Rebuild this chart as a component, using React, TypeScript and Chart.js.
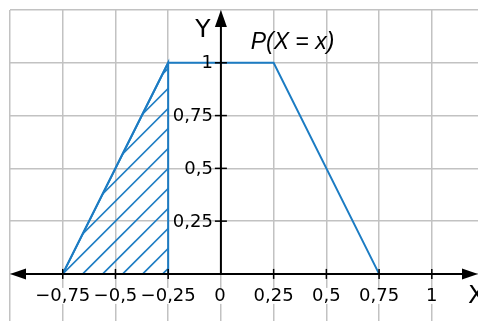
import React, { useEffect, useRef } from "react";
import { Chart, registerables } from "chart.js";
Chart.register(...registerables);

const pdfX = [-0.75, -0.25, 0.25, 0.75];
const pdfY = [0, 1, 1, 0];
const shadeX = [-0.75, -0.25, -0.25];
const shadeY = [0, 1, 0];
const xTickValues = [-0.75, -0.5, -0.25, 0, 0.25, 0.5, 0.75, 1];
const xTickLabels = ["\u22120,75", "\u22120,5", "\u22120,25", "0", "0,25", "0,5", "0,75", "1"];
const yTickValues = [0.25, 0.5, 0.75, 1];
const yTickLabels = ["0,25", "0,5", "0,75", "1"];
const xAxisTitle = "X";
const yAxisTitle = "Y";
const curveLabel = "P(X = x)";

const BLUE = "#1c7cc3";

const overlay = {
  id: "overlay",
  beforeDatasetsDraw(chart: any) {
    const ctx = chart.ctx;
    const pts = chart.getDatasetMeta(1).data;
    if (!pts || pts.length < 3) return;
    ctx.save();
    ctx.beginPath();
    ctx.moveTo(pts[0].x, pts[0].y);
    ctx.lineTo(pts[1].x, pts[1].y);
    ctx.lineTo(pts[2].x, pts[2].y);
    ctx.closePath();
    ctx.clip();
    ctx.strokeStyle = BLUE;
    ctx.lineWidth = 1.7;
    const c0 = pts[0].x + pts[0].y;
    for (let k = -30; k <= 30; k++) {
      const c = c0 + k * 20;
      ctx.beginPath();
      ctx.moveTo(c - 400, 400);
      ctx.lineTo(c + 400, -400);
      ctx.stroke();
    }
    ctx.restore();
  },
  afterDraw(chart: any) {
    const ctx = chart.ctx;
    const xs = chart.scales.x;
    const ys = chart.scales.y;
    const x0 = xs.getPixelForValue(0);
    const y0 = ys.getPixelForValue(0);
    const W = chart.width;
    ctx.save();
    ctx.strokeStyle = "#000";
    ctx.fillStyle = "#000";
    ctx.lineWidth = 2;
    // x axis
    ctx.beginPath();
    ctx.moveTo(22, y0);
    ctx.lineTo(W - 12, y0);
    ctx.stroke();
    ctx.beginPath();
    ctx.moveTo(10, y0);
    ctx.lineTo(26, y0 - 5.5);
    ctx.lineTo(26, y0 + 5.5);
    ctx.closePath();
    ctx.fill();
    ctx.beginPath();
    ctx.moveTo(W, y0);
    ctx.lineTo(W - 16, y0 - 5.5);
    ctx.lineTo(W - 16, y0 + 5.5);
    ctx.closePath();
    ctx.fill();
    // y axis
    const yTop = ys.getPixelForValue(ys.max);
    ctx.beginPath();
    ctx.moveTo(x0, y0);
    ctx.lineTo(x0, yTop + 12);
    ctx.stroke();
    ctx.beginPath();
    ctx.moveTo(x0, yTop);
    ctx.lineTo(x0 - 6, yTop + 17);
    ctx.lineTo(x0 + 6, yTop + 17);
    ctx.closePath();
    ctx.fill();
    // ticks
    ctx.lineWidth = 1.5;
    xTickValues.forEach((v) => {
      if (v === 0) return;
      const px = xs.getPixelForValue(v);
      ctx.beginPath();
      ctx.moveTo(px, y0 - 5);
      ctx.lineTo(px, y0 + 5);
      ctx.stroke();
    });
    yTickValues.forEach((v) => {
      const py = ys.getPixelForValue(v);
      ctx.beginPath();
      ctx.moveTo(x0 - 6, py);
      ctx.lineTo(x0 + 6, py);
      ctx.stroke();
    });
    // tick labels
    ctx.font = "18px 'DejaVu Sans'";
    ctx.textBaseline = "middle";
    ctx.textAlign = "center";
    xTickValues.forEach((v, i) => {
      const px = v === 0 ? xs.getPixelForValue(v) - 1 : xs.getPixelForValue(v);
      const py = y0 + 22;
      const w = ctx.measureText(xTickLabels[i]).width;
      ctx.fillStyle = "#fff";
      ctx.fillRect(px - w / 2 - 1, py - 8, w + 2, 16);
      ctx.fillStyle = "#000";
      ctx.fillText(xTickLabels[i], px, py);
    });
    ctx.textAlign = "right";
    yTickValues.forEach((v, i) => {
      const py = ys.getPixelForValue(v);
      ctx.fillText(yTickLabels[i], x0 - 8, py + 1);
    });
    // axis titles
    ctx.font = "25px 'DejaVu Sans'";
    ctx.textAlign = "center";
    ctx.fillText(yAxisTitle, x0 - 18, yTop + 20);
    ctx.textAlign = "left";
    ctx.fillText(xAxisTitle, W - 10, y0 + 23);
    // curve label
    ctx.font = "italic 23px 'Liberation Sans'";
    ctx.textAlign = "left";
    ctx.textBaseline = "alphabetic";
    ctx.fillText(curveLabel, xs.getPixelForValue(0.25) - 23, 49);
    ctx.restore();
  },
};

export default function App() {
  const ref = useRef<HTMLCanvasElement | null>(null);
  useEffect(() => {
    const canvas = ref.current;
    if (!canvas) return;
    const chart = new Chart(canvas, {
      type: "line",
      data: {
        datasets: [
          {
            data: pdfX.map((x, i) => ({ x, y: pdfY[i] })),
            borderColor: BLUE,
            borderWidth: 2,
            pointRadius: 0,
            fill: false,
            tension: 0,
          },
          {
            data: shadeX.map((x, i) => ({ x, y: shadeY[i] })),
            borderColor: BLUE,
            borderWidth: 2,
            pointRadius: 0,
            fill: false,
            tension: 0,
          },
        ],
      },
      options: {
        responsive: false,
        animation: false,
        events: [],
        layout: { padding: { left: 10, top: 10, right: 0, bottom: 0 } },
        plugins: {
          legend: { display: false },
          tooltip: { enabled: false },
        },
        scales: {
          x: {
            type: "linear",
            min: -1,
            max: 1.219,
            ticks: { display: false, stepSize: 0.25, includeBounds: false },
            grid: { color: "#c2c2c2", lineWidth: 1.5, drawTicks: false },
            border: { display: false },
          },
          y: {
            type: "linear",
            min: -0.223,
            max: 1.25,
            ticks: { display: false, stepSize: 0.25, includeBounds: false },
            grid: { color: "#c2c2c2", lineWidth: 1.5, drawTicks: false },
            border: { display: false },
          },
        },
      },
      plugins: [overlay],
    });
    return () => chart.destroy();
  }, []);
  return (
    <div style={{ position: "absolute", left: 0, top: 0, width: 478, height: 321, background: "#fff" }}>
      <canvas ref={ref} width={478} height={321} style={{ display: "block", width: 478, height: 321 }} />
    </div>
  );
}
